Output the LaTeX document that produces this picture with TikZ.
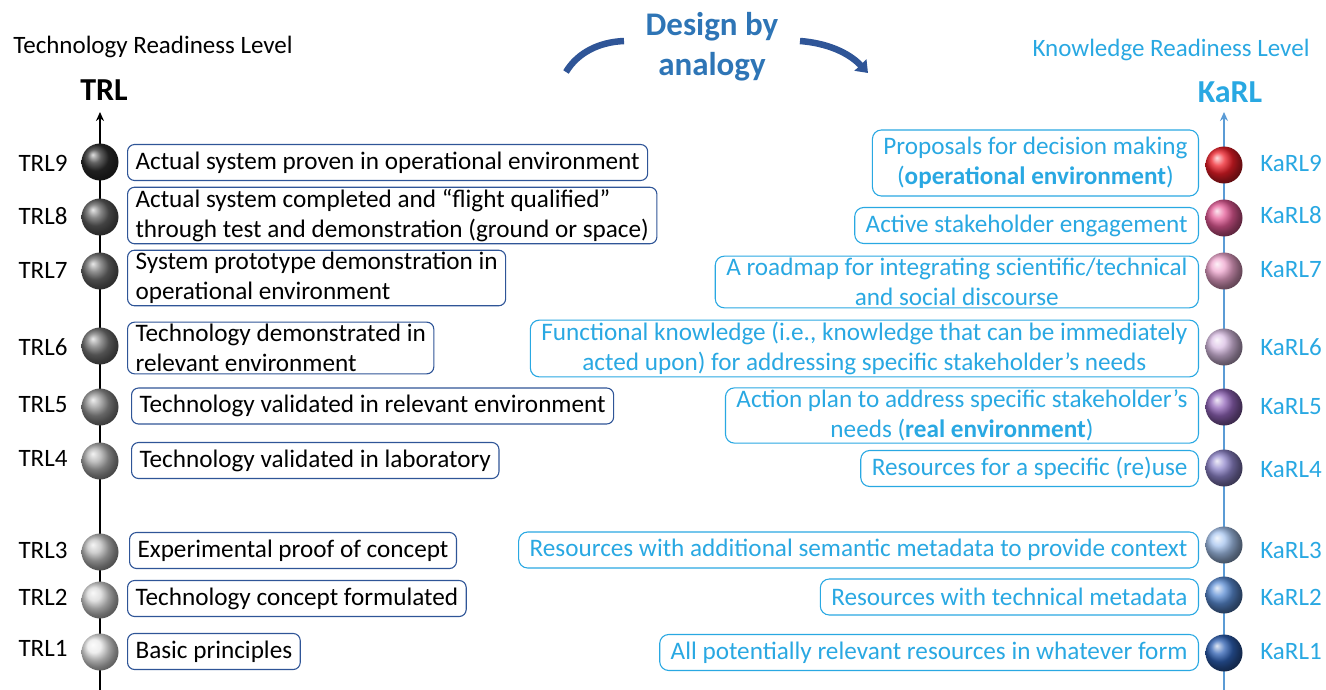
\documentclass[tikz,border=0pt]{standalone}
\usepackage{fontspec}
\setmainfont{Carlito}
\usetikzlibrary{arrows.meta}

\definecolor{trlframe}{RGB}{47,85,151}
\definecolor{karltext}{RGB}{41,168,226}
\definecolor{karlaxis}{RGB}{91,155,213}
\definecolor{analogy}{RGB}{46,117,182}
%% sphere colours
\definecolor{trl9}{RGB}{45,45,45}
\definecolor{trl8}{RGB}{95,95,95}
\definecolor{trl7}{RGB}{108,108,108}
\definecolor{trl6}{RGB}{115,115,115}
\definecolor{trl5}{RGB}{145,145,145}
\definecolor{trl4}{RGB}{172,172,172}
\definecolor{trl3}{RGB}{190,190,190}
\definecolor{trl2}{RGB}{215,215,215}
\definecolor{trl1}{RGB}{232,232,232}
\definecolor{karl9}{RGB}{238,30,40}
\definecolor{karl8}{RGB}{228,90,150}
\definecolor{karl7}{RGB}{238,165,205}
\definecolor{karl6}{RGB}{218,190,228}
\definecolor{karl5}{RGB}{145,100,185}
\definecolor{karl4}{RGB}{142,132,202}
\definecolor{karl3}{RGB}{165,195,238}
\definecolor{karl2}{RGB}{90,140,212}
\definecolor{karl1}{RGB}{45,95,178}

\begin{document}
\begin{tikzpicture}
[x=1pt,y=-1pt,
  sphere/.style={shape=circle,minimum size=37pt,inner sep=0pt,ball color=#1},%
  lvlLabel/.style={font=\fontsize{25}{30}\selectfont},%
  trlBox/.style={draw=trlframe,line width=1.1pt,rounded corners=7pt,anchor=west,
    align=left,inner xsep=8pt,inner ysep=2pt,minimum height=36pt,
    font=\fontsize{25.2}{30}\selectfont},%
  karlBox/.style={draw=karltext,text=karltext,line width=1.1pt,rounded corners=9pt,
    anchor=east,align=center,inner xsep=11pt,inner ysep=2pt,minimum height=36pt,
    font=\fontsize{25.2}{30}\selectfont},%
  axisLine/.style={line width=2.4pt,-{Stealth[length=9pt,width=8pt]}},%
  swoosh/.style={draw=trlframe,line width=6.5pt}]
\useasboundingbox (0,0) rectangle (1326,690);
%% titles
\node (trlTitle) at (153,47) [lvlLabel] {Technology Readiness Level};
\node (trlHead) at (104,90) [font=\fontsize{32}{36}\selectfont\bfseries] {TRL};
\node (karlTitle) at (1171,50) [lvlLabel,text=karltext] {Knowledge Readiness Level};
\node (karlHead) at (1230,92) [font=\fontsize{32}{36}\selectfont\bfseries,text=karltext] {KaRL};
\node (design) at (712,47) [align=center,text=analogy,
  font=\fontsize{33}{40}\selectfont\bfseries] {Design by\\analogy};
%% swooshes round the middle title
\coordinate (swL1) at (624,41);
\coordinate (swL2) at (566,72);
\coordinate (swR1) at (800,41);
\coordinate (swR2) at (868,73);
\draw[swoosh] (swL1) .. controls (600,42) and (578,52) .. (swL2);
\draw[swoosh,-{Triangle[length=11pt,width=16pt]}] (swR1) .. controls (826,43) and (848,52) .. (swR2);
%% axes
\coordinate (trlBase) at (100,690);
\coordinate (trlTop) at (100,112);
\coordinate (karlBase) at (1224,690);
\coordinate (karlTop) at (1224,112);
\draw[axisLine,black] (trlBase) -- (trlTop);
\draw[axisLine,karlaxis] (karlBase) -- (karlTop);
%% spheres and level labels
\foreach \lvl/\ys/\yl in {
  9/162/163, 8/217/216, 7/271/270, 6/346/347, 5/407/405,
  4/461/458, 3/552/550, 2/600/597, 1/652/648}
{
  \node (trl\lvl) at (100,\ys) [sphere=trl\lvl] {};
  \node (trlLabel\lvl) at (43,\yl) [lvlLabel] {TRL\lvl};
}
\foreach \lvl/\ys/\yl in {
  9/165/163, 8/218/215, 7/271/270, 6/347/347, 5/407/407,
  4/468/470, 3/545/550, 2/595/597, 1/653/652}
{
  \node (karl\lvl) at (1224,\ys) [sphere=karl\lvl] {};
  \node (karlLabel\lvl) at (1291,\yl) [lvlLabel,text=karltext] {KaRL\lvl};
}
%% TRL descriptions
\node (trlBox9) at (127,162.5) [trlBox] {Actual system proven in operational environment};
\node (trlBox8) at (127,215.5) [trlBox] {Actual system completed and ``flight qualified''\\through test and demonstration (ground or space)};
\node (trlBox7) at (127,278) [trlBox] {System prototype demonstration in\\operational environment};
\node (trlBox6) at (127,348) [trlBox] {Technology demonstrated in\\relevant environment};
\node (trlBox5) at (131,406) [trlBox] {Technology validated in relevant environment};
\node (trlBox4) at (131,460.5) [trlBox] {Technology validated in laboratory};
\node (trlBox3) at (129,550.5) [trlBox] {Experimental proof of concept};
\node (trlBox2) at (127,598.5) [trlBox] {Technology concept formulated};
\node (trlBox1) at (127,651.5) [trlBox] {Basic principles};
%% KaRL descriptions
\node (karlBox9) at (1199,163) [karlBox,minimum height=66pt] {Proposals for decision making\\(\textbf{operational environment})};
\node (karlBox8) at (1199,225.5) [karlBox] {Active stakeholder engagement};
\node (karlBox7) at (1199,282) [karlBox] {A roadmap for integrating scientific/technical\\and social discourse};
\node (karlBox6) at (1199,348.5) [karlBox] {Functional knowledge (i.e., knowledge that can be immediately\\acted upon) for addressing specific stakeholder’s needs};
\node (karlBox5) at (1199,415.5) [karlBox] {Action plan to address specific stakeholder’s\\needs (\textbf{real environment})};
\node (karlBox4) at (1199,468.5) [karlBox] {Resources for a specific (re)use};
\node (karlBox3) at (1199,550) [karlBox] {Resources with additional semantic metadata to provide context};
\node (karlBox2) at (1199,597) [karlBox] {Resources with technical metadata};
\node (karlBox1) at (1199,652.5) [karlBox] {All potentially relevant resources in whatever form};
\end{tikzpicture}
\end{document}
